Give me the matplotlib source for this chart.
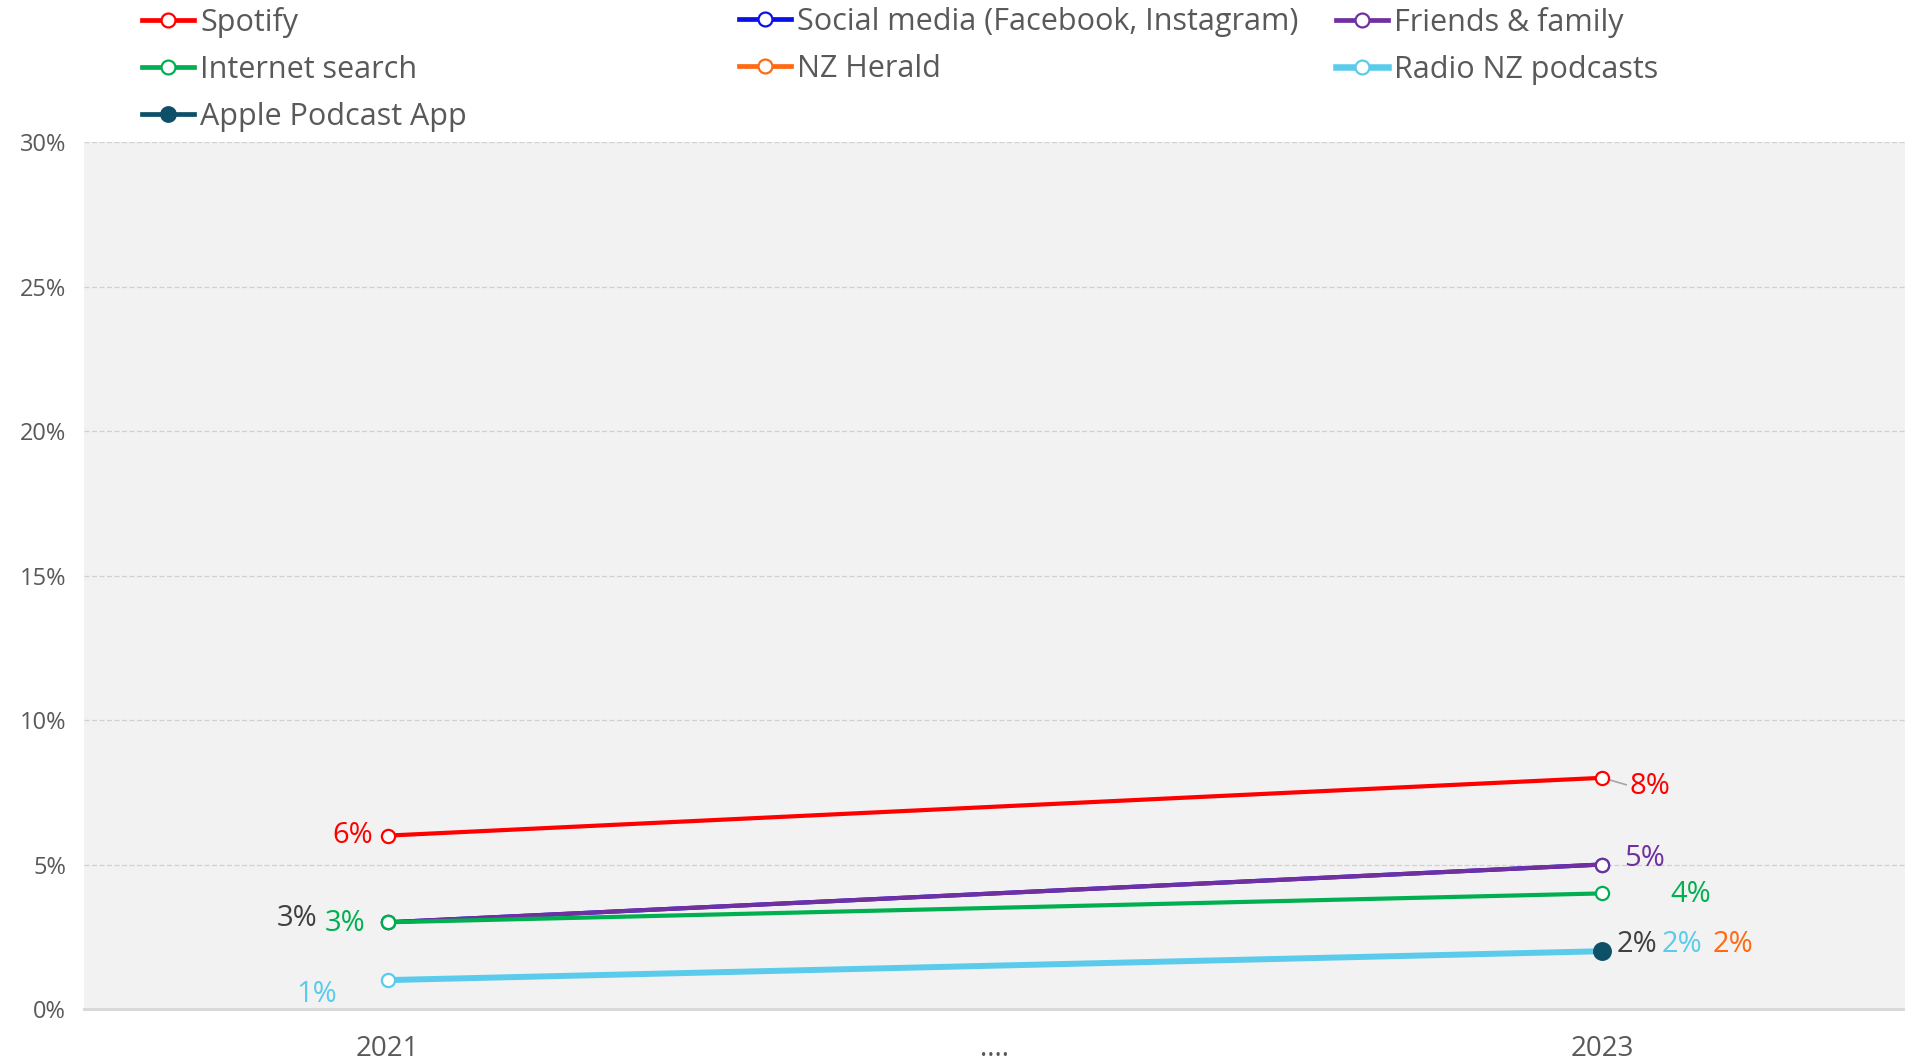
import numpy as np
import matplotlib
matplotlib.use("Agg")
import matplotlib.pyplot as plt
from matplotlib.lines import Line2D

plt.rcParams['font.family'] = ['Open Sans', 'DejaVu Sans']

# ---- data ----
categories = ['2021', '....', '2023']
series_names = ['Spotify', 'Social media (Facebook, Instagram)', 'Friends & family',
                'Internet search', 'NZ Herald', 'Radio NZ podcasts', 'Apple Podcast App']
spotify = [6, np.nan, 8]
social_media = [3, np.nan, 5]
friends_family = [3, np.nan, 5]
internet_search = [3, np.nan, 4]
nz_herald = [np.nan, np.nan, 2]
radio_nz = [1, np.nan, 2]
apple_podcast = [np.nan, np.nan, 2]
y_ticks = [0, 5, 10, 15, 20, 25, 30]

values = [spotify, social_media, friends_family, internet_search, nz_herald, radio_nz, apple_podcast]
colors = ['#ff0000', '#0a10e8', '#7030a0', '#00b050', '#ff6a13', '#5bcbeb', '#0e5068']
label_colors = ['#ff0000', '#404040', '#7030a0', '#00b050', '#ff6a13', '#5bcbeb', '#404040']
widths = [3.0, 3.0, 3.0, 3.0, 3.0, 4.3, 3.0]
filled = [False, False, False, False, False, False, True]

# label offsets in pixels (dx, dy, ha) per series at first/last point; None = not shown
label_offsets = [
    [(-15, 0, 'right'), (27, -9, 'left')],
    [(-70, 4, 'right'), None],
    [None, (22, 6, 'left')],
    [(-22, -1, 'right'), (68, -1, 'left')],
    [None, (110, 7, 'left')],
    [(-51, -14, 'right'), (59, 7, 'left')],
    [None, (14, 7, 'left')],
]

fig = plt.figure(figsize=(19.06, 10.61), dpi=100)
ax = fig.add_axes([84 / 1906, 1 - 1009 / 1061, 1 - 84 / 1906, (1009 - 142) / 1061])
ax.set_facecolor('#f2f2f2')

x = np.arange(len(categories))
for name, vals, c, lw, fill in zip(series_names, values, colors, widths, filled):
    v = np.array(vals, dtype=float)
    m = ~np.isnan(v)
    ax.plot(x[m], v[m], color=c, lw=lw, marker='o', ms=12 if fill else 9.5,
            mfc=c if fill else 'white', mec=c, mew=1.6, solid_capstyle='round',
            label=name, zorder=3)

for vals, lc, offs in zip(values, label_colors, label_offsets):
    v = np.array(vals, dtype=float)
    for pos, off in zip([0, 2], offs):
        if off is None or np.isnan(v[pos]):
            continue
        dx, dy, ha = off
        ax.annotate(f'{v[pos]:.0f}%', (x[pos], v[pos]), xytext=(dx, dy),
                    textcoords='offset pixels', ha=ha, va='center',
                    color=lc, fontsize=21, zorder=5)

# small leader line for the Spotify 2023 label
ax.annotate('', (x[2], spotify[2]), xytext=(24, -7), textcoords='offset pixels',
            arrowprops=dict(arrowstyle='-', color='#a6a6a6', lw=1.2,
                            shrinkA=0, shrinkB=6), zorder=2)

ax.set_xlim(-0.5, 2.5)
ax.set_ylim(0, 30)
ax.set_xticks(x)
ax.set_xticklabels(categories, fontsize=20, color='#595959')
ax.set_yticks(y_ticks)
ax.set_yticklabels([f'{t}%' for t in y_ticks], fontsize=17, color='#595959')
ax.tick_params(axis='both', length=0)
ax.tick_params(axis='y', pad=13)
ax.tick_params(axis='x', pad=19)
ax.yaxis.grid(True, color='#d0d0d0', lw=0.9, ls=(0, (4, 2)))
ax.set_axisbelow(True)
for s in ['left', 'right', 'top']:
    ax.spines[s].set_visible(False)
ax.spines['bottom'].set_color('#d9d9d9')
ax.spines['bottom'].set_linewidth(2.2)

# legend in three columns
handles = {}
for name, c, lw, fill in zip(series_names, colors, widths, filled):
    handles[name] = Line2D([], [], color=c, lw=lw + 0.4, marker='o', ms=10.5 if fill else 10,
                           mfc=c if fill else 'white', mec=c, mew=1.6)
columns = [
    (142, ['Spotify', 'Internet search', 'Apple Podcast App']),
    (739, ['Social media (Facebook, Instagram)', 'NZ Herald']),
    (1336, ['Friends & family', 'Radio NZ podcasts']),
]
for xpix, names in columns:
    leg = fig.legend([handles[n] for n in names], names, loc='upper left',
                     bbox_to_anchor=(xpix / 1906, 1 - 7 / 1061), frameon=False,
                     fontsize=22, handlelength=1.7, handletextpad=0.2,
                     labelspacing=0.55, borderpad=0, borderaxespad=0)
    for t in leg.get_texts():
        t.set_color('#595959')

fig.savefig('out.png', dpi=100)
